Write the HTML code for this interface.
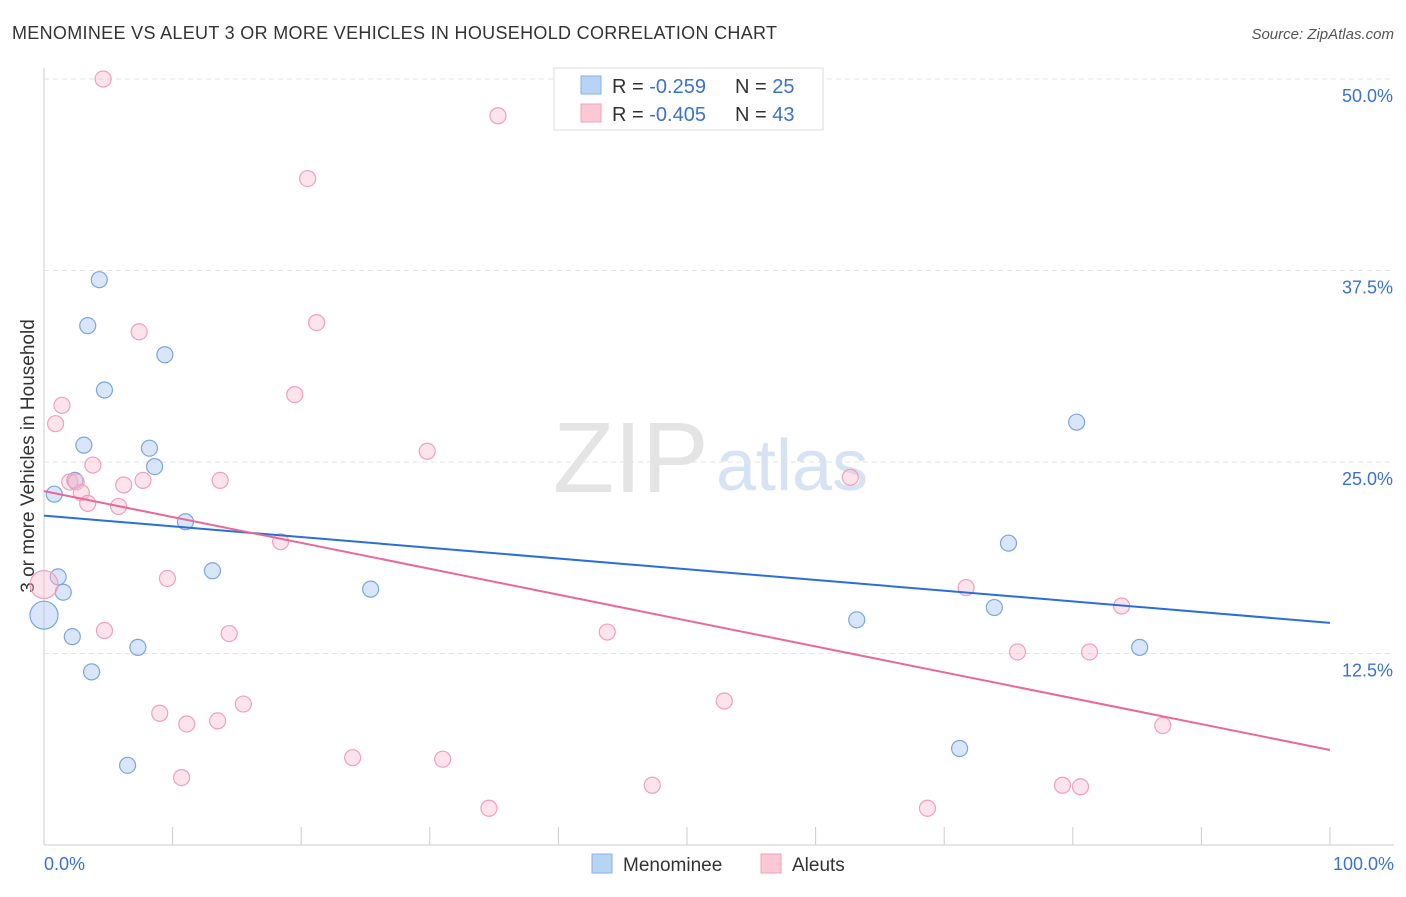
<!DOCTYPE html>
<html><head><meta charset="utf-8"><style>
body{margin:0;background:#fff;font-family:"Liberation Sans",sans-serif;}
svg text{font-family:"Liberation Sans",sans-serif;}
</style></head><body>
<svg id="c" width="1406" height="892">
<text x="12" y="39" font-size="18" fill="#333" textLength="765">MENOMINEE VS ALEUT 3 OR MORE VEHICLES IN HOUSEHOLD CORRELATION CHART</text>
<text x="1394" y="39" font-size="15" fill="#555" text-anchor="end" font-style="italic">Source: ZipAtlas.com</text>
<text x="34" y="456" font-size="19" fill="#333" text-anchor="middle" transform="rotate(-90 34 456)">3 or more Vehicles in Household</text>
<text x="553" y="492" font-size="100" fill="#e4e4e4" font-family="Liberation Serif">ZIP</text>
<text x="716" y="490" font-size="72" fill="#d6e3f5">atlas</text>
<g id="grid"></g><g id="pts"></g><g id="lines"></g>
<g>
<rect x="554" y="68" width="269" height="62" fill="#fff" stroke="#ddd"/>
<rect x="581" y="76" width="20" height="18" fill="#b9d3f5" stroke="#8ab2e8"/>
<rect x="581" y="104" width="20" height="18" fill="#fcc8d6" stroke="#f0a0b8"/>
<text x="612" y="93" font-size="20" fill="#333">R = <tspan fill="#3a72d0"> -0.259</tspan><tspan x="735">N = </tspan><tspan fill="#3a72d0">25</tspan></text>
<text x="612" y="121" font-size="20" fill="#333">R = <tspan fill="#3a72d0">-0.405</tspan><tspan x="735">N = </tspan><tspan fill="#3a72d0">43</tspan></text>
</g>
<g>
<rect x="592" y="854" width="20" height="19" fill="#b9d3f5" stroke="#8ab2e8"/>
<text x="623" y="871" font-size="19" fill="#333">Menominee</text>
<rect x="761" y="854" width="20" height="19" fill="#fcc8d6" stroke="#f0a0b8"/>
<text x="792" y="871" font-size="19" fill="#333">Aleuts</text>
</g>
<text x="44" y="870" font-size="18" fill="#3a72d0">0.0%</text>
<text x="1394" y="870" font-size="18" fill="#3a72d0" text-anchor="end">100.0%</text>
</svg>
<script>
const yTicks=[50,37.5,25,12.5];
const yTickLabels=["50.0%","37.5%","25.0%","12.5%"];
const blueX=[0.8,4.3,3.4,9.4,4.7,3.1,8.2,8.6,2.4,11.0,1.1,1.5,0,2.2,7.3,3.7,13.1,6.5,25.4,63.2,80.3,75.0,73.9,85.2,71.2];
const blueY=[22.9,36.9,33.9,32.0,29.7,26.1,25.9,24.7,23.8,21.1,17.5,16.5,15.0,13.6,12.9,11.3,17.9,5.2,16.7,14.7,27.6,19.7,15.5,12.9,6.3];
const pinkX=[4.6,35.3,20.5,21.2,7.4,19.5,1.4,0.9,29.8,3.8,2.0,2.5,2.9,3.4,5.8,6.2,7.7,13.7,18.4,9.6,0,4.7,14.4,43.8,62.7,71.7,83.8,75.7,81.3,15.5,9.0,11.1,13.5,52.9,87.0,24.0,31.0,10.7,47.3,34.6,68.7,79.2,80.6];
const pinkY=[50.0,47.6,43.5,34.1,33.5,29.4,28.7,27.5,25.7,24.8,23.7,23.7,23.0,22.3,22.1,23.5,23.8,23.8,19.8,17.4,17.0,14.0,13.8,13.9,24.0,16.8,15.6,12.6,12.6,9.2,8.6,7.9,8.1,9.4,7.8,5.7,5.6,4.4,3.9,2.4,2.4,3.9,3.8];
const blueTrend=[21.5,14.5];
const pinkTrend=[23.1,6.2];
const X=v=>44+v*12.86, Y=v=>845-v*15.32;
const NS="http://www.w3.org/2000/svg";
function mk(t,a,p){const e=document.createElementNS(NS,t);for(const k in a)e.setAttribute(k,a[k]);p.appendChild(e);return e;}
const g=document.getElementById('grid');
mk('line',{x1:44,y1:68,x2:44,y2:845,stroke:'#ccc'},g);
mk('line',{x1:44,y1:845,x2:1394,y2:845,stroke:'#ccc'},g);
for(let i=1;i<=10;i++){const l=mk('line',{x1:44+i*128.6,y1:827,x2:44+i*128.6,y2:845,stroke:'#ccc'},g);}
yTicks.forEach((v,i)=>{
 const l=mk('line',{x1:44,y1:Y(v),x2:1394,y2:Y(v),stroke:'#e3e3e3','stroke-dasharray':'5,4'},g);
 
 const t=mk('text',{x:1393,y:Y(v)+23,'font-size':18,fill:'#3a72d0','text-anchor':'end'},g);
 t.textContent=yTickLabels[i];
 
});
const p=document.getElementById('pts');
blueX.forEach((v,i)=>{const big=v===0;const c=mk('circle',{cx:X(v),cy:Y(blueY[i]),r:big?14:8,fill:'rgba(170,200,245,0.45)',stroke:'#7aa6e0','stroke-width':1.2},p);
 });
pinkX.forEach((v,i)=>{const big=v===0;const c=mk('circle',{cx:X(v),cy:Y(pinkY[i]),r:big?14:8,fill:'rgba(250,185,205,0.4)',stroke:'#f0a0b8','stroke-width':1.2},p);
 });
const L=document.getElementById('lines');
const b=mk('line',{x1:X(0),y1:Y(blueTrend[0]),x2:X(100),y2:Y(blueTrend[1]),stroke:'#2a6fd6','stroke-width':2},L);

const k=mk('line',{x1:X(0),y1:Y(pinkTrend[0]),x2:X(100),y2:Y(pinkTrend[1]),stroke:'#e8689a','stroke-width':2},L);

</script>
</body></html>
